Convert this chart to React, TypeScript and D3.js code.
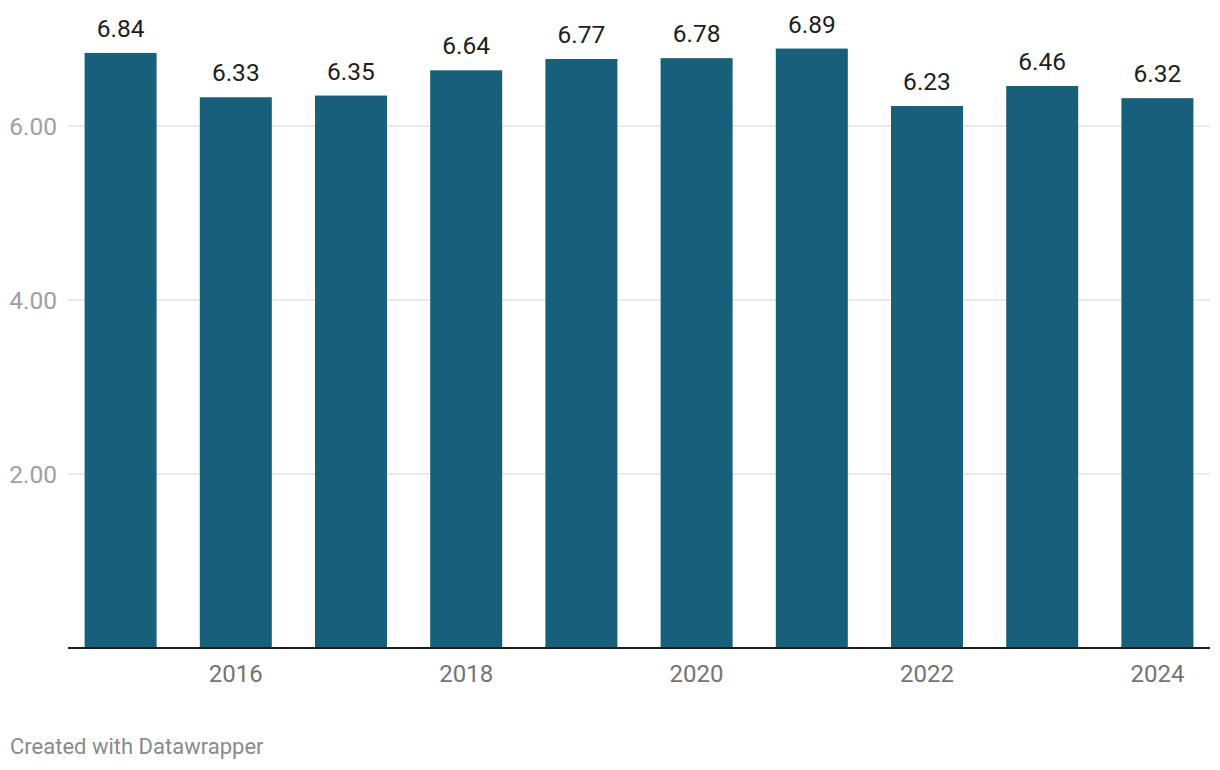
import React from "react";
import * as d3 from "d3";

const years = [2015, 2016, 2017, 2018, 2019, 2020, 2021, 2022, 2023, 2024];
const values = [6.84, 6.33, 6.35, 6.64, 6.77, 6.78, 6.89, 6.23, 6.46, 6.32];
const yTicks = [2, 4, 6];
const xTickYears = [2016, 2018, 2020, 2022, 2024];

export default function App() {
  const W = 1220, H = 770;
  const left = 68, right = 1210, base = 648;
  const x = d3.scaleBand<number>().domain(years).range([left, right]).paddingInner(0.375).paddingOuter(0.144);
  const y = d3.scaleLinear().domain([0, 7]).range([base, base - 7 * 87]);
  const font = "Roboto, 'Noto Sans', sans-serif";
  return (
    <svg width={W} height={H} style={{ position: "absolute", left: 0, top: 0 }} fontFamily={font}>
      {yTicks.map((t) => (
        <g key={t}>
          <line x1={left} x2={right} y1={y(t)} y2={y(t)} stroke="#e3e3e3" strokeWidth={1.5} />
          <text x={57} y={y(t)} dy="0.35em" textAnchor="end" fontSize={24.5} fill="#a0a0a0">
            {d3.format(".2f")(t)}
          </text>
        </g>
      ))}
      {years.map((yr, i) => (
        <g key={yr}>
          <rect x={x(yr)} y={y(values[i])} width={x.bandwidth()} height={base - y(values[i])} fill="#175f7a" />
          <text x={(x(yr) as number) + x.bandwidth() / 2} y={y(values[i]) - 16} textAnchor="middle" fontSize={24.5} fill="#1d1d1d">
            {d3.format(".2f")(values[i])}
          </text>
        </g>
      ))}
      <line x1={left} x2={right} y1={base} y2={base} stroke="#1d1d1d" strokeWidth={2} />
      {xTickYears.map((yr) => (
        <text key={yr} x={(x(yr) as number) + x.bandwidth() / 2} y={682} textAnchor="middle" fontSize={24} fill="#747474">
          {yr}
        </text>
      ))}
      <text x={10} y={754} fontSize={22} fill="#8a8a8a">Created with Datawrapper</text>
    </svg>
  );
}
